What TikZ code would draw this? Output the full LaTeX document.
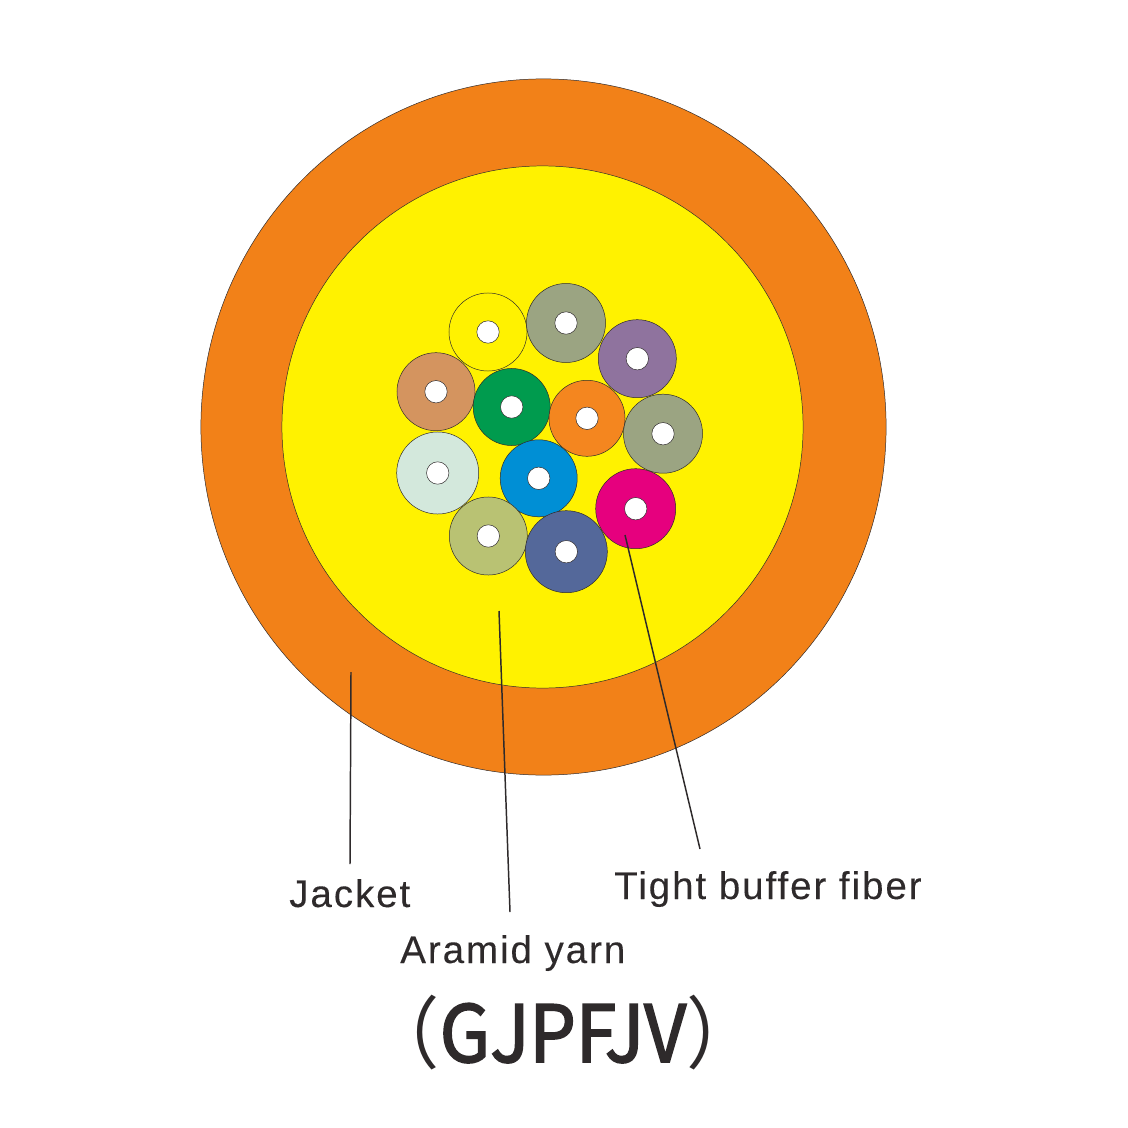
\documentclass[tikz,border=0pt]{standalone}
\usepackage{fontspec}
\usetikzlibrary{positioning, shapes.geometric}
\newfontfamily\labelfont[LetterSpace=5,FakeBold=0.15]{Liberation Sans}
\newfontfamily\titlefont[FakeStretch=0.93,FakeBold=2.2]{Noto Sans CJK SC}
\newfontfamily\parenfont[FakeStretch=0.93]{Noto Sans CJK SC}
\definecolor{jacketorange}{HTML}{F28118}
\definecolor{yarnyellow}{HTML}{FFF200}
\definecolor{inkdark}{HTML}{2E2A2B}
\definecolor{fibgray}{HTML}{9BA482}
\definecolor{fibpurple}{HTML}{8F739E}
\definecolor{fibtan}{HTML}{D4945F}
\definecolor{fibgreen}{HTML}{009B4E}
\definecolor{fiborange}{HTML}{F4861F}
\definecolor{fibpale}{HTML}{D3E8DC}
\definecolor{fibblue}{HTML}{008FD5}
\definecolor{fibmagenta}{HTML}{E6007E}
\definecolor{fibolive}{HTML}{B9C273}
\definecolor{fibnavy}{HTML}{54689A}
\begin{document}
\begin{tikzpicture}[
    x=0.025cm, y=-0.025cm,
    layer/.style={ellipse, draw=inkdark, line width=0.35pt, inner sep=0pt},
    fiber/.style={circle, draw=inkdark, line width=0.35pt, inner sep=0pt},
    hole/.style={circle, draw=inkdark, line width=0.35pt, fill=white, inner sep=0pt, minimum size=0.56cm},
    leader/.style={draw=inkdark, line width=1.05pt},
    lbl/.style={anchor=base west, inner sep=0pt, text=inkdark, font=\labelfont\fontsize{27.4}{30}\selectfont}
  ]
    \useasboundingbox (0,0) rectangle (1128,1128);

    % cable layers
    \node[layer, fill=jacketorange, minimum width=17.125cm, minimum height=17.4cm] (jacket) at (543.5,427) {};
    \node[layer, fill=yarnyellow, minimum width=13.025cm, minimum height=13.05cm] (yarn) at (542.5,427) {};

    % tight buffer fibers
    \foreach \name/\px/\py/\rad/\col in {
        f1/488/332/39/yarnyellow, f2/566/323/39.5/fibgray, f3/637.3/358.7/39/fibpurple,
        f4/436/391.7/39/fibtan, f5/511.7/407/38.5/fibgreen, f6/587/418.3/38/fiborange,
        f7/663/433.7/39.5/fibgray, f8/437.7/473/41/fibpale, f9/538.7/478.3/38.5/fibblue,
        f10/635.7/508.7/40/fibmagenta, f11/488.3/536/39/fibolive, f12/566.3/551.7/41/fibnavy} {
      \node[fiber, fill=\col, minimum size=0.05cm*\rad] (\name) at (\px,\py) {};
      \node[hole] (\name h) at (\name.center) {};
    }

    % leader ends
    \coordinate (jacketin) at (351,672);
    \coordinate (yarnin) at (499,611);
    \coordinate (fiberin) at (625,535);

    \node[lbl] (jacketlbl) at (289,907) {Jacket};
    \node[lbl] (yarnlbl) at (400,963) {Aramid yarn};
    \node[lbl] (fiberlbl) at (614,899) {Tight buffer fiber};
    \node[anchor=base, inner sep=0pt, text=inkdark, font=\titlefont\fontsize{56}{60}\selectfont] (title) at (563,1062) {{\parenfont （}GJPFJV{\parenfont ）}};

    \coordinate (jacketout) at (350,864);
    \coordinate (yarnout) at (510,912);
    \coordinate (fiberout) at (700,849);
    \draw[leader] (jacketin) -- (jacketout);
    \draw[leader] (yarnin) -- (yarnout);
    \draw[leader] (fiberin) -- (fiberout);
  \end{tikzpicture}
\end{document}
